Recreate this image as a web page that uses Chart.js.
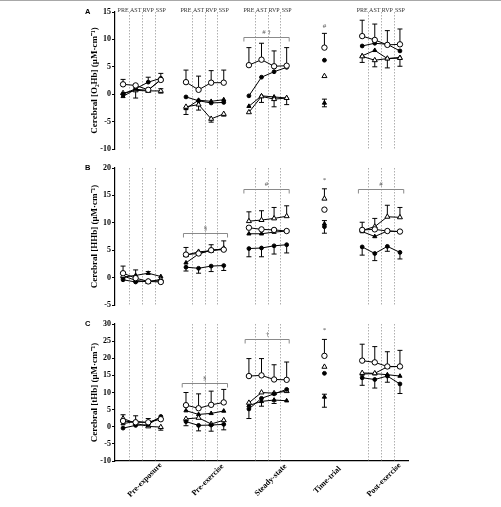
<!DOCTYPE html>
<html>
<head>
<meta charset="utf-8">
<script src="https://cdn.jsdelivr.net/npm/chart.js@4.4.1/dist/chart.umd.min.js"></script>
<style>
  html, body { margin: 0; padding: 0; background: #fff; }
  #fig { position: relative; width: 501px; height: 507px; overflow: hidden; }
  #rule { position: absolute; left: 0; top: 0; width: 501px; height: 1px; background: #a8a8a8; }
  .panel { position: absolute; left: 0; width: 501px; }
</style>
</head>
<body>
<div id="fig">
  <div id="rule"></div>
  <div class="panel" style="top:0;height:160px"><canvas id="chartA"></canvas></div>
  <div class="panel" style="top:156px;height:160px"><canvas id="chartB"></canvas></div>
  <div class="panel" style="top:312px;height:195px"><canvas id="chartC"></canvas></div>
</div>
<script>
// x slots: 4 phases per block, single time-trial point
const xPositions = [0, 1, 2, 3, 5, 6, 7, 8, 10, 11, 12, 13, 16, 19, 20, 21, 22];
const breakAfter = [3, 7, 11, 12];
const groupNames = ["Pre-exposure", "Pre-exercise", "Steady-state", "Time-trial", "Post-exercise"];
const groupCenters = [1.5, 6.5, 11.5, 16, 20.5];
const phaseLabels = ["PRE", "AST", "RVP", "SSP"];
const phaseBlocks = [0, 5, 10, 19];
const dividerLines = [0.5, 1.5, 2.5, 5.5, 6.5, 7.5, 10.5, 11.5, 12.5, 19.5, 20.5, 21.5];

// Panel A - cerebral [O2Hb]
const o2hbOpenCircle = [1.8, 1.6, 0.8, 2.6, 2.2, 0.8, 2.1, 2.1, 5.3, 6.3, 5.1, 5.2, 8.5, 10.6, 9.9, 9.0, 9.1];
const o2hbFilledCircle = [0.0, 1.0, 2.2, 2.9, -0.5, -1.2, -1.6, -1.5, -0.3, 3.1, 4.1, 4.9, 6.2, 8.8, 9.3, 9.1, 7.9];
const o2hbOpenTriangle = [0.2, 0.7, 0.6, 0.6, -2.3, -1.9, -4.5, -3.6, -3.3, -0.4, -0.9, -0.7, 3.3, 6.9, 6.2, 6.5, 6.6];
const o2hbFilledTriangle = [-0.4, 0.9, 0.7, 2.7, -2.6, -1.1, -1.3, -1.0, -2.2, -0.3, -0.5, -0.7, -1.6, 7.0, 8.0, 6.5, 6.7];
const o2hbOpenCircleErr = [0.9, null, null, null, 2.2, 2.5, 2.2, 2.3, 3.2, 3.0, 2.8, 3.3, 2.6, 2.9, 2.9, 2.6, 2.8];
const o2hbFilledCircleErr = [null, null, 0.9, 0.9, null, null, null, null, null, null, null, null, null, null, null, null, null];
const o2hbOpenTriangleErr = [null, -1.4, null, [0.4, 0.4], -1.4, -1.0, -0.6, -0.4, null, -1.1, -1.4, -1.2, null, -1.1, -1.2, -1.7, -1.5];
const o2hbFilledTriangleErr = [null, null, null, null, null, null, null, null, null, null, null, null, [0.7, 0.7], null, null, null, null];
const o2hbBrackets = [[9.6, 13.2, 10.4, "# \u2020"]];
const o2hbMarks = [[16, 12.5, "#"]];

// Panel B - cerebral [HHb]
const hhbOpenCircle = [0.8, -0.1, -0.7, -0.8, 4.2, 4.4, 5.0, 5.1, 9.1, 8.8, 8.7, 8.5, 12.4, 8.7, 8.8, 8.5, 8.4];
const hhbFilledCircle = [-0.4, -0.8, -0.6, -0.6, 1.9, 1.7, 2.1, 2.2, 5.3, 5.4, 5.8, 6.0, 9.3, 5.6, 4.4, 5.7, 4.6];
const hhbOpenTriangle = [0.3, -0.5, -0.8, -0.3, 4.1, 4.7, 4.9, 5.3, 10.3, 10.5, 10.8, 11.2, 14.4, 8.6, 9.3, 11.1, 11.0];
const hhbFilledTriangle = [0.1, 0.4, 0.8, 0.2, 2.7, 4.3, 5.0, 5.2, 8.0, 8.0, 8.3, 8.5, 9.8, 8.4, 7.5, 8.5, 8.4];
const hhbOpenCircleErr = [1.3, 1.5, null, null, 1.3, null, 1.0, 1.6, null, null, null, null, null, null, null, null, null];
const hhbFilledCircleErr = [null, null, null, null, -0.7, -0.9, -1.0, -0.9, -1.5, -1.6, -1.5, -1.5, [1.2, 1.1], -1.5, -1.3, -0.9, -1.2];
const hhbOpenTriangleErr = [null, null, null, null, null, null, null, null, 1.7, 1.7, 2.0, 1.9, 1.8, 1.5, 1.5, 2.1, 1.8];
const hhbFilledTriangleErr = [null, null, 0.3, null, null, null, null, null, null, null, null, null, null, null, null, null, null];
const hhbBrackets = [[4.8, 8.3, 8.1, "\u00a7"], [9.6, 13.2, 16.1, "#"], [18.7, 22.3, 16.1, "#"]];
const hhbMarks = [[16, 17.8, "*"]];

// Panel C - cerebral [tHb]
const thbOpenCircle = [1.7, 1.3, 1.3, 2.2, 6.3, 5.4, 6.4, 7.1, 14.8, 15.0, 13.8, 13.7, 20.7, 19.3, 18.8, 17.6, 17.6];
const thbFilledCircle = [-0.4, 0.4, 0.6, 3.0, 1.5, 0.4, 0.5, 0.7, 5.2, 8.3, 9.6, 10.9, 15.6, 14.3, 13.8, 14.8, 12.5];
const thbOpenTriangle = [2.4, 1.0, 0.1, -0.1, 2.3, 2.6, 0.8, 1.9, 7.0, 10.0, 9.8, 10.4, 17.5, 15.7, 15.6, 17.5, 17.6];
const thbFilledTriangle = [0.9, 1.6, 1.2, 2.7, 4.7, 3.6, 3.9, 4.6, 6.2, 7.4, 7.8, 7.6, 8.7, 15.4, 15.5, 15.2, 14.8];
const thbOpenCircleErr = [null, 1.9, 1.1, null, 3.7, 4.2, 4.0, 3.8, 5.1, 4.9, 4.3, 5.2, 4.8, 4.8, 4.6, 4.3, 4.7];
const thbFilledCircleErr = [null, null, null, null, -1.2, -1.6, -1.8, -1.6, -2.8, null, null, null, null, -2.2, -2.5, -1.8, -2.8];
const thbOpenTriangleErr = [1.1, null, null, -0.9, null, null, null, null, null, null, null, null, null, null, null, null, null];
const thbFilledTriangleErr = [null, null, null, null, null, null, null, null, null, -1.4, -1.0, null, [3.0, 0.8], null, null, null, null];
const thbBrackets = [[4.7, 8.3, 12.9, "\u00a7"], [9.7, 13.2, 25.6, "\u2020"]];
const thbMarks = [[16, 28.1, "*"]];

const serif = "'Liberation Serif', 'Times New Roman', serif";
const sans = "'Liberation Sans', Arial, sans-serif";

const seriesStyles = [
  { pointStyle: "circle", radius: 2.7, fill: "#fff" },
  { pointStyle: "circle", radius: 1.9, fill: "#000" },
  { pointStyle: "triangle", radius: 2.9, fill: "#fff" },
  { pointStyle: "triangle", radius: 2.4, fill: "#000" },
];

function seriesPoints(values) {
  const pts = [];
  values.forEach((v, i) => {
    pts.push({ x: xPositions[i], y: v });
    if (breakAfter.includes(i)) pts.push({ x: xPositions[i] + 0.5, y: null });
  });
  return pts;
}

const figurePlugin = {
  id: "figureExtras",
  beforeDatasetsDraw(chart) {
    const { ctx, chartArea, scales } = chart;
    const xs = scales.x, ys = scales.y;
    const cfg = chart.options.plugins.figureExtras;
    ctx.save();
    // dotted phase dividers
    ctx.strokeStyle = "#9a9a9a";
    ctx.lineWidth = 0.8;
    ctx.setLineDash([1.5, 1.5]);
    dividerLines.forEach((d) => {
      const px = Math.round(xs.getPixelForValue(d)) + 0.5;
      ctx.beginPath();
      ctx.moveTo(px, chartArea.top);
      ctx.lineTo(px, chartArea.bottom);
      ctx.stroke();
    });
    ctx.setLineDash([]);
    // error bars
    ctx.strokeStyle = "#000";
    ctx.lineWidth = 1;
    cfg.values.forEach((vals, s) => {
      cfg.errors[s].forEach((e, i) => {
        if (e === null || vals[i] === null) return;
        const ends = Array.isArray(e) ? [vals[i] - e[0], vals[i] + e[1]] : [vals[i] + e];
        const px = xs.getPixelForValue(xPositions[i]);
        const py = ys.getPixelForValue(vals[i]);
        ends.forEach((end) => {
          const ey = ys.getPixelForValue(end);
          ctx.beginPath();
          ctx.moveTo(px, py);
          ctx.lineTo(px, ey);
          ctx.moveTo(px - 2.5, ey);
          ctx.lineTo(px + 2.5, ey);
          ctx.stroke();
        });
      });
    });
    ctx.restore();
  },
  afterDatasetsDraw(chart) {
    const { ctx, chartArea, scales } = chart;
    const xs = scales.x, ys = scales.y;
    const cfg = chart.options.plugins.figureExtras;
    ctx.save();
    // significance brackets
    ctx.strokeStyle = "#8a8a8a";
    ctx.fillStyle = "#555";
    ctx.lineWidth = 1;
    ctx.font = "7px " + serif;
    ctx.textAlign = "center";
    ctx.textBaseline = "bottom";
    cfg.brackets.forEach(([x0, x1, y, label]) => {
      const a = xs.getPixelForValue(x0), b = xs.getPixelForValue(x1);
      const py = Math.round(ys.getPixelForValue(y)) + 0.5;
      ctx.beginPath();
      ctx.moveTo(a, py + 4);
      ctx.lineTo(a, py);
      ctx.lineTo(b, py);
      ctx.lineTo(b, py + 4);
      ctx.stroke();
      ctx.fillText(label, (a + b) / 2, py - 2);
    });
    ctx.textBaseline = "middle";
    cfg.marks.forEach(([x, y, label]) => {
      ctx.fillText(label, xs.getPixelForValue(x), ys.getPixelForValue(y));
    });
    // panel letter
    ctx.fillStyle = "#000";
    ctx.font = "bold 7.5px " + sans;
    ctx.textAlign = "left";
    ctx.fillText(cfg.letter, 85, chartArea.top);
    // phase labels on top of panel A
    if (cfg.phaseLabels) {
      ctx.fillStyle = "#333";
      ctx.font = "6px " + serif;
      ctx.textAlign = "center";
      ctx.textBaseline = "bottom";
      phaseBlocks.forEach((start) => {
        phaseLabels.forEach((p, k) => {
          ctx.fillText(p, xs.getPixelForValue(start + k), chartArea.top + 1);
        });
      });
    }
    // rotated group names under panel C
    if (cfg.groupNames) {
      ctx.fillStyle = "#000";
      ctx.font = "bold 8px " + serif;
      ctx.textAlign = "center";
      ctx.textBaseline = "middle";
      groupNames.forEach((name, g) => {
        ctx.save();
        ctx.translate(xs.getPixelForValue(groupCenters[g]) + 3, chartArea.bottom + 19);
        ctx.rotate(-Math.PI / 4);
        ctx.fillText(name, 0, 0);
        ctx.restore();
      });
    }
    ctx.restore();
  },
};

function makePanel(id, opts) {
  const datasets = opts.values.map((vals, s) => ({
    data: seriesPoints(vals),
    borderColor: "#000",
    borderWidth: 1,
    backgroundColor: seriesStyles[s].fill,
    pointBackgroundColor: seriesStyles[s].fill,
    pointBorderColor: "#000",
    pointBorderWidth: 1,
    pointStyle: seriesStyles[s].pointStyle,
    pointRadius: seriesStyles[s].radius,
    pointHoverRadius: seriesStyles[s].radius,
    spanGaps: false,
    tension: 0,
    clip: false,
  }));
  return new Chart(document.getElementById(id).getContext("2d"), {
    type: "line",
    data: { datasets },
    plugins: [figurePlugin],
    options: {
      responsive: true,
      maintainAspectRatio: false,
      animation: false,
      events: [],
      layout: { padding: { left: 89, right: 93, top: 12, bottom: opts.bottomPad } },
      plugins: {
        legend: { display: false },
        tooltip: { enabled: false },
        figureExtras: {
          values: opts.values,
          errors: opts.errors,
          brackets: opts.brackets,
          marks: opts.marks,
          letter: opts.letter,
          phaseLabels: opts.phaseLabels,
          groupNames: opts.groupNames,
        },
      },
      scales: {
        x: {
          type: "linear",
          min: -0.64,
          max: 22.64,
          display: opts.groupNames ? true : false,
          afterFit: (s) => { s.height = 0; },
          ticks: { display: false },
          grid: { display: false },
          border: { display: true, color: "#000", width: 1.2 },
        },
        y: {
          min: opts.yMin,
          max: opts.yMax,
          afterFit: (s) => { s.width = 26; },
          ticks: {
            stepSize: 5,
            color: "#000",
            padding: 1,
            font: { family: serif, size: 8, weight: "bold" },
          },
          grid: { drawOnChartArea: false, drawTicks: true, tickLength: 3, color: "#000" },
          border: { color: "#000", width: 1.2 },
          title: {
            display: true,
            text: opts.title,
            color: "#000",
            padding: 0,
            font: { family: serif, size: 9, weight: "bold" },
          },
        },
      },
    },
  });
}

makePanel("chartA", {
  values: [o2hbOpenCircle, o2hbFilledCircle, o2hbOpenTriangle, o2hbFilledTriangle],
  errors: [o2hbOpenCircleErr, o2hbFilledCircleErr, o2hbOpenTriangleErr, o2hbFilledTriangleErr],
  brackets: o2hbBrackets,
  marks: o2hbMarks,
  yMin: -10, yMax: 15,
  title: "Cerebral [O\u2082Hb] (\u03bcM\u00b7cm\u207b\u00b9)",
  letter: "A",
  phaseLabels: true,
  bottomPad: 11,
});

makePanel("chartB", {
  values: [hhbOpenCircle, hhbFilledCircle, hhbOpenTriangle, hhbFilledTriangle],
  errors: [hhbOpenCircleErr, hhbFilledCircleErr, hhbOpenTriangleErr, hhbFilledTriangleErr],
  brackets: hhbBrackets,
  marks: hhbMarks,
  yMin: -5, yMax: 20,
  title: "Cerebral [HHb] (\u03bcM\u00b7cm\u207b\u00b9)",
  letter: "B",
  bottomPad: 11,
});

makePanel("chartC", {
  values: [thbOpenCircle, thbFilledCircle, thbOpenTriangle, thbFilledTriangle],
  errors: [thbOpenCircleErr, thbFilledCircleErr, thbOpenTriangleErr, thbFilledTriangleErr],
  brackets: thbBrackets,
  marks: thbMarks,
  yMin: -10, yMax: 30,
  title: "Cerebral [tHb] (\u03bcM\u00b7cm\u207b\u00b9)",
  letter: "C",
  groupNames: true,
  bottomPad: 46,
});
</script>
</body>
</html>
